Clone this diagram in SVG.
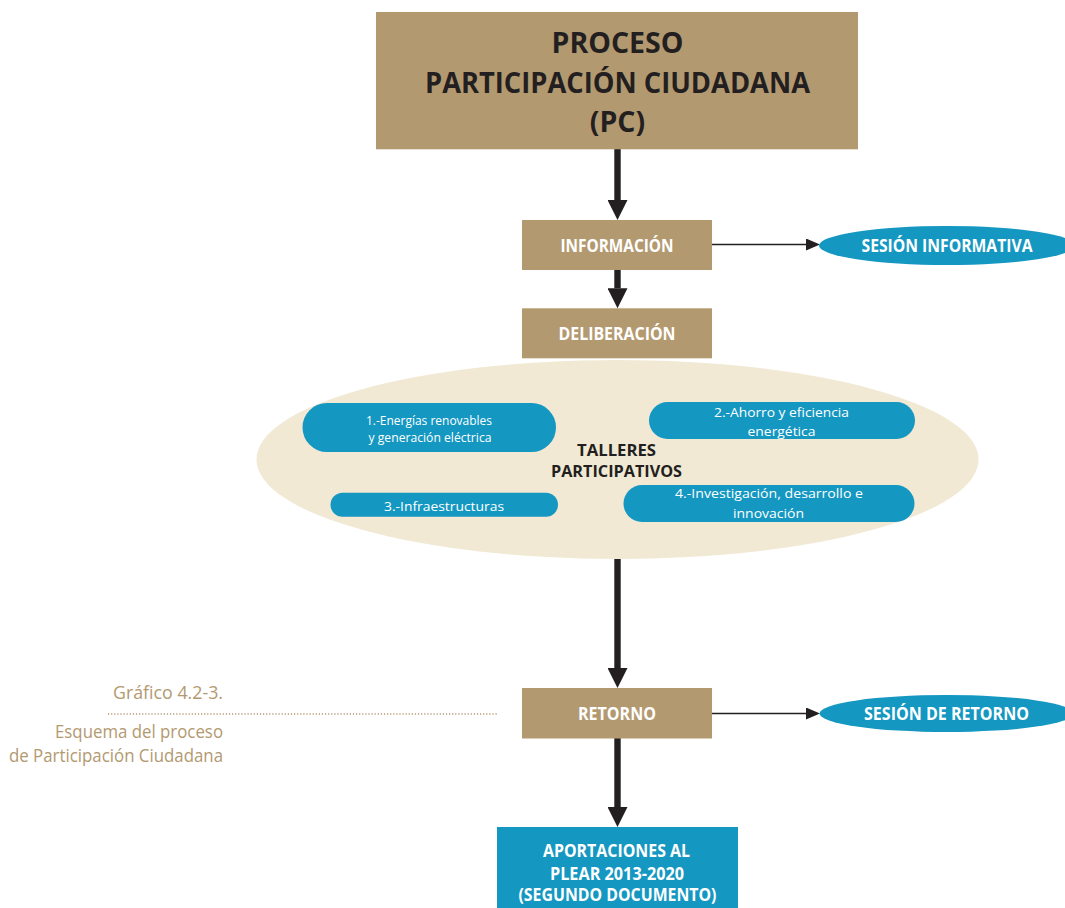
<svg xmlns="http://www.w3.org/2000/svg" width="1065" height="908" viewBox="0 0 1065 908">
<style>
.tan{fill:#b39970}
.blue{fill:#1497c1}
.cream{fill:#f1e9d4}
.title{font-family:"Open Sans","Liberation Sans",sans-serif;font-weight:700;font-size:28.5px;fill:#231f20;text-anchor:middle}
.lbl{font-family:"Open Sans","Liberation Sans",sans-serif;font-weight:700;font-size:17px;fill:#ffffff;text-anchor:middle}
.dark{font-family:"Open Sans","Liberation Sans",sans-serif;font-weight:700;font-size:16.5px;fill:#231f20;text-anchor:middle}
.pill{font-family:"Open Sans","Liberation Sans",sans-serif;font-weight:400;font-size:13.5px;fill:#ffffff;text-anchor:middle}
.cap{font-family:"Open Sans","Liberation Sans",sans-serif;font-weight:400;font-size:18.5px;fill:#b39970;text-anchor:end}
.thick{stroke:#231f20;stroke-width:6.4;fill:none}
.thin{stroke:#231f20;stroke-width:1.3;fill:none}
</style>
<defs>
<marker id="headThick" viewBox="0 0 20 20" markerWidth="20" markerHeight="20" markerUnits="userSpaceOnUse" refX="0" refY="10" orient="auto">
<path d="M0,0 L20,10 L0,20 Z" fill="#231f20"/>
</marker>
<marker id="headThin" viewBox="0 0 14 12" markerWidth="14" markerHeight="12" markerUnits="userSpaceOnUse" refX="0" refY="6" orient="auto">
<path d="M0,0 L14,6 L0,12 Z" fill="#231f20"/>
</marker>
</defs>

<g id="talleres">
<ellipse class="cream" cx="617.5" cy="459.5" rx="361" ry="99.5"/>
<text class="dark" x="616.5" y="455.5" textLength="79" lengthAdjust="spacingAndGlyphs">TALLERES</text>
<text class="dark" x="616.5" y="477" textLength="131" lengthAdjust="spacingAndGlyphs">PARTICIPATIVOS</text>
</g>

<g id="taller1">
<rect class="blue" x="302.5" y="403" width="253.5" height="49" rx="24.5"/>
<text class="pill" x="429" y="424.5" textLength="126" lengthAdjust="spacingAndGlyphs">1.-Energías renovables</text>
<text class="pill" x="430" y="441.5" textLength="123" lengthAdjust="spacingAndGlyphs">y generación eléctrica</text>
</g>
<g id="taller2">
<rect class="blue" x="649" y="402" width="266" height="37" rx="18.5"/>
<text class="pill" x="781.5" y="417" textLength="135" lengthAdjust="spacingAndGlyphs">2.-Ahorro y eficiencia</text>
<text class="pill" x="781.5" y="436" textLength="68" lengthAdjust="spacingAndGlyphs">energética</text>
</g>
<g id="taller3">
<rect class="blue" x="330.5" y="492.7" width="227.5" height="24" rx="12"/>
<text class="pill" x="444" y="510.7" textLength="120" lengthAdjust="spacingAndGlyphs">3.-Infraestructuras</text>
</g>
<g id="taller4">
<rect class="blue" x="623.5" y="485" width="291" height="37" rx="18.5"/>
<text class="pill" x="769" y="498" textLength="188" lengthAdjust="spacingAndGlyphs">4.-Investigación, desarrollo e</text>
<text class="pill" x="768.5" y="517.5" textLength="71" lengthAdjust="spacingAndGlyphs">innovación</text>
</g>

<g id="connectors">
<line class="thick" x1="617.5" y1="149" x2="617.5" y2="200" marker-end="url(#headThick)"/>
<line class="thick" x1="617.5" y1="270" x2="617.5" y2="288.3" marker-end="url(#headThick)"/>
<line class="thick" x1="617.5" y1="559" x2="617.5" y2="668" marker-end="url(#headThick)"/>
<line class="thick" x1="617.5" y1="738" x2="617.5" y2="807" marker-end="url(#headThick)"/>
<line class="thin" x1="712" y1="244.5" x2="806" y2="244.5" marker-end="url(#headThin)"/>
<line class="thin" x1="712" y1="713.5" x2="806" y2="713.5" marker-end="url(#headThin)"/>
</g>

<g id="proceso">
<rect class="tan" x="376" y="12" width="482" height="137.3"/>
<text class="title" x="617.5" y="53.3">PROCESO</text>
<text class="title" x="617.5" y="93" textLength="385" lengthAdjust="spacingAndGlyphs">PARTICIPACIÓN CIUDADANA</text>
<text class="title" x="617.5" y="132">(PC)</text>
</g>

<g id="informacion">
<rect class="tan" x="522" y="220" width="190" height="50"/>
<text class="lbl" x="617" y="251.5" textLength="113" lengthAdjust="spacingAndGlyphs">INFORMACIÓN</text>
</g>

<g id="sesion-informativa">
<ellipse class="blue" cx="947" cy="245.5" rx="128" ry="19.5"/>
<text class="lbl" x="947" y="252" textLength="171" lengthAdjust="spacingAndGlyphs">SESIÓN INFORMATIVA</text>
</g>

<g id="deliberacion">
<rect class="tan" x="522" y="308.3" width="190" height="50"/>
<text class="lbl" x="617" y="339.5" textLength="117" lengthAdjust="spacingAndGlyphs">DELIBERACIÓN</text>
</g>

<g id="retorno">
<rect class="tan" x="522" y="688" width="190" height="50.5"/>
<text class="lbl" x="617" y="719.5" textLength="78" lengthAdjust="spacingAndGlyphs">RETORNO</text>
</g>

<g id="sesion-retorno">
<ellipse class="blue" cx="946.5" cy="713.5" rx="127" ry="18.5"/>
<text class="lbl" x="946.5" y="719.5" textLength="165" lengthAdjust="spacingAndGlyphs">SESIÓN DE RETORNO</text>
</g>

<g id="aportaciones">
<rect class="blue" x="497" y="827" width="241" height="81"/>
<text class="lbl" x="616.5" y="857" textLength="147" lengthAdjust="spacingAndGlyphs">APORTACIONES AL</text>
<text class="lbl" x="617" y="880" textLength="134" lengthAdjust="spacingAndGlyphs">PLEAR 2013-2020</text>
<text class="lbl" x="617.5" y="901" textLength="198" lengthAdjust="spacingAndGlyphs">(SEGUNDO DOCUMENTO)</text>
</g>

<g id="caption">
<text class="cap" x="223" y="698.5" textLength="110" lengthAdjust="spacingAndGlyphs">Gráfico 4.2-3.</text>
<line x1="108" y1="714" x2="497" y2="714" stroke="#b39970" stroke-width="1.5" stroke-dasharray="1.2 1.9"/>
<text class="cap" x="223" y="738.3" textLength="168" lengthAdjust="spacingAndGlyphs">Esquema del proceso</text>
<text class="cap" x="223" y="762.3" textLength="214" lengthAdjust="spacingAndGlyphs">de Participación Ciudadana</text>
</g>
</svg>
